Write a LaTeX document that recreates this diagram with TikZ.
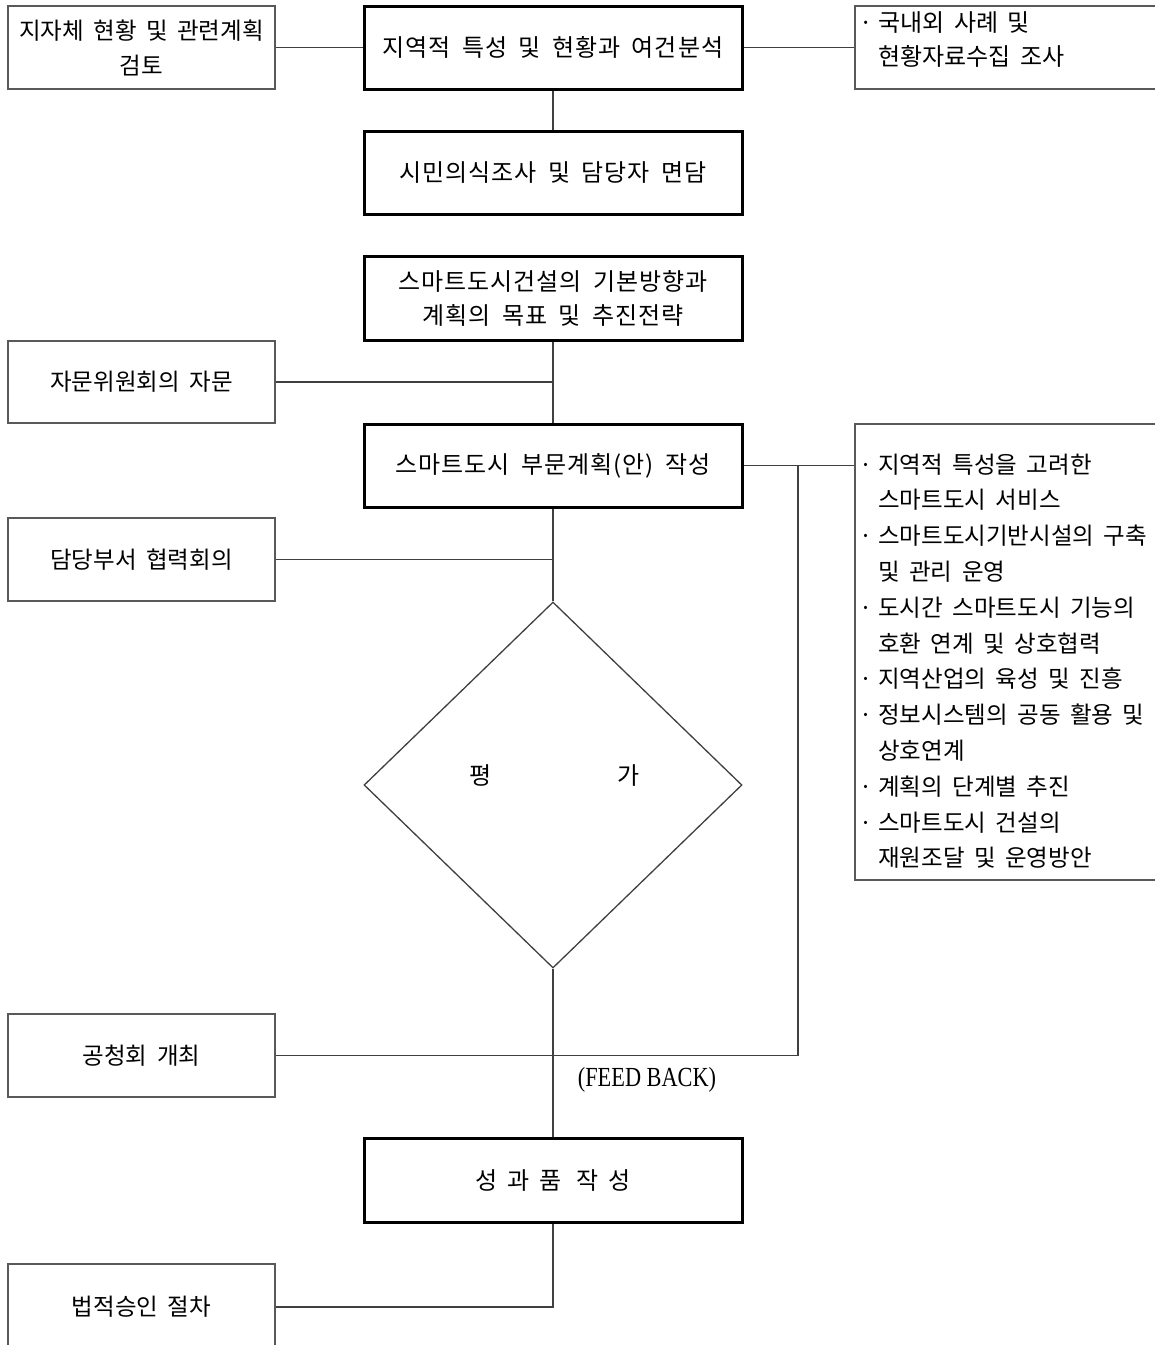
\documentclass[tikz,border=0pt]{standalone}
\usepackage{fontspec}
\usepackage{graphicx}
\setmainfont{Noto Sans CJK KR}[WordSpace=1.8]
\newfontfamily\latinserif{Liberation Serif}
\newfontfamily\kspaced{Noto Sans CJK KR}[WordSpace=1.8, LetterSpace=4]
\usetikzlibrary{shapes.geometric}
\newcommand\myKfont{\fontsize{23.5}{35}\selectfont}
\newcommand\myCfont{\kspaced\fontsize{24}{34}\selectfont}
\newcommand\myListfont{\fontsize{23.5}{35.8}\selectfont}
\newcommand\mybul{\makebox[19pt][l]{·}}
\newcommand\myind{\hspace*{19pt}}
\begin{document}
\begin{tikzpicture}[x=1pt,y=-1pt,
  thickbox/.style={draw=black, line width=3pt, minimum width=378pt, minimum height=83pt,
    inner sep=0pt, align=center, font=\myCfont},
  thinbox/.style={draw=black!65, line width=1.6pt, minimum width=267pt, minimum height=83pt,
    inner sep=0pt, align=center, font=\myKfont},
  sidebox/.style={draw=black!65, line width=1.6pt, minimum width=305pt, inner sep=0pt},
  link/.style={draw=black!75, line width=1.3pt},
  txt/.style={inner sep=0pt, font=\myKfont}]
\useasboundingbox (0,0) rectangle (1155,1345);
\clip (0,0) rectangle (1155,1345);
\fill[white] (0,0) rectangle (1155,1345);

% left column
\node[thinbox] (A) at (141.5,47.5) {지자체 현황 및 관련계획\\검토};
\node[thinbox, minimum height=82pt] (F) at (141.5,382) {자문위원회의 자문};
\node[thinbox] (I) at (141.5,559.5) {담당부서 협력회의};
\node[thinbox] (J) at (141.5,1055.5) {공청회 개최};
\node[thinbox, minimum height=86pt] (L) at (141.5,1307) {법적승인 절차};

% center column
\node[thickbox] (B) at (553,47.5) {지역적 특성 및 현황과 여건분석};
\node[thickbox] (D) at (553,172.5) {시민의식조사 및 담당자 면담};
\node[thickbox, minimum height=84pt] (E) at (553,298) {스마트도시건설의 기본방향과\\계획의 목표 및 추진전략};
\node[thickbox] (G) at (553,465.5) {스마트도시 부문계획(안) 작성};
\node[diamond, draw=black!75, line width=1.3pt, minimum width=378pt, minimum height=366pt,
  inner sep=0pt] (Dia) at (553,785) {};
\node[txt, font=\fontsize{24}{24}\selectfont] (DiaT) at (554.5,775) {평\hspace{125pt}가};
\node[thickbox, minimum height=84pt, font=\fontsize{24}{24}\selectfont] (K) at (553,1180)
  {성\hspace{10pt}과\hspace{10pt}품\hspace{15pt}작\hspace{10pt}성};

% right column
\node[sidebox, minimum height=83pt] (C) at (1007.5,47.5) {};
\node[txt, anchor=base west, align=left, font=\fontsize{24}{34}\selectfont] (CT) at (859,65)
  {\mybul 국내외 사례 및\\\myind 현황자료수집 조사};
\node[sidebox, minimum height=456pt] (H) at (1007.5,652) {};
\node[txt, anchor=base west, align=left, font=\myListfont] (HT) at (859,866.8)
  {\mybul 지역적 특성을 고려한\\
   \myind 스마트도시 서비스\\
   \mybul 스마트도시기반시설의 구축\\
   \myind 및 관리 운영\\
   \mybul 도시간 스마트도시 기능의\\
   \myind 호환 연계 및 상호협력\\
   \mybul 지역산업의 육성 및 진흥\\
   \mybul 정보시스템의 공동 활용 및\\
   \myind 상호연계\\
   \mybul 계획의 단계별 추진\\
   \mybul 스마트도시 건설의\\
   \myind 재원조달 및 운영방안};

\node[inner sep=0pt] (FB) at (647,1080)
  {\latinserif\fontsize{23}{23}\selectfont\scalebox{0.97}[1.2]{(FEED BACK)}};

% connectors
\coordinate (fb) at (798,465.5);
\draw[link] (A.east) -- (B.west);
\draw[link] (B.east) -- (C.west);
\draw[link] (B.south) -- (D.north);
\draw[link] (E.south) -- (G.north);
\draw[link] (F.east) -- (F.east -| E.south);
\draw[link] (G.east) -- (G.east -| H.west);
\draw[link] (G.south) -- (Dia.north);
\draw[link] (I.east) -- (I.east -| G.south);
\draw[link] (Dia.south) -- (K.north);
\draw[link] (fb) |- (J.east);
\draw[link] (K.south) |- (L.east);
\end{tikzpicture}
\end{document}
